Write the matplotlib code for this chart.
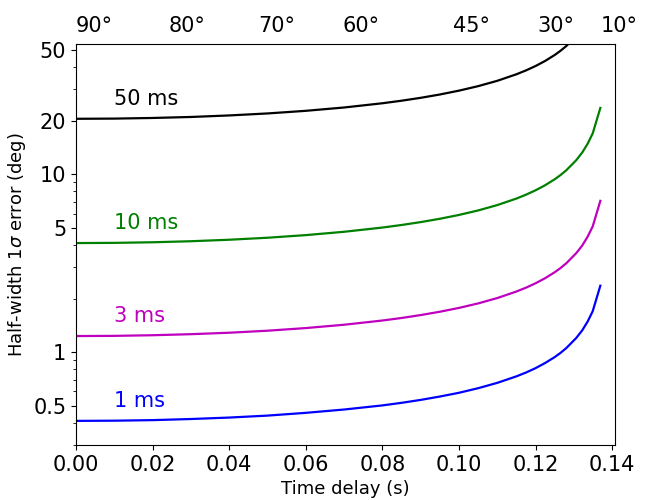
import matplotlib
matplotlib.use("Agg")
import matplotlib.pyplot as plt
from matplotlib.ticker import FixedLocator, FormatStrFormatter, NullFormatter, LogLocator

# time delay (s)
delay = [0.0, 0.01, 0.02, 0.03, 0.04, 0.05, 0.06, 0.07, 0.08, 0.085, 0.09,
         0.095, 0.10, 0.105, 0.11, 0.115, 0.1175, 0.12, 0.1225, 0.125, 0.1265,
         0.128, 0.1306, 0.1322, 0.1336, 0.1349, 0.1369]

# half-width 1 sigma error (deg) for each timing error
err_1ms = [0.41, 0.411, 0.414, 0.420, 0.428, 0.439, 0.455, 0.475, 0.501, 0.518,
           0.538, 0.562, 0.590, 0.626, 0.671, 0.730, 0.767, 0.812, 0.868, 0.937,
           0.989, 1.052, 1.199, 1.327, 1.487, 1.695, 2.361]
err_3ms = [1.23, 1.233, 1.243, 1.260, 1.284, 1.318, 1.364, 1.424, 1.504, 1.554,
           1.614, 1.685, 1.771, 1.877, 2.012, 2.190, 2.302, 2.437, 2.603, 2.812,
           2.967, 3.155, 3.597, 3.980, 4.462, 5.085, 7.084]
err_10ms = [4.1, 4.111, 4.143, 4.199, 4.281, 4.394, 4.545, 4.746, 5.013, 5.182,
            5.380, 5.617, 5.903, 6.257, 6.707, 7.299, 7.675, 8.124, 8.676, 9.374,
            9.892, 10.52, 11.99, 13.27, 14.87, 16.95, 23.61]
err_50ms = [20.5, 20.55, 20.72, 20.99, 21.41, 21.97, 22.73, 23.73, 25.07, 25.91,
            26.90, 28.08, 29.52, 31.29, 33.53, 36.50, 38.37, 40.62, 43.38, 46.87,
            49.46, 52.58, 59.94, 66.34, 74.37, 84.75, 118.1]

series = [err_1ms, err_3ms, err_10ms, err_50ms]
names = ["1 ms", "3 ms", "10 ms", "50 ms"]
colors = ["b", "m", "g", "k"]

# angle labels on top and the delay where each one sits
angles = ["90°", "80°", "70°", "60°", "45°", "30°", "10°"]
angle_delay = [0.0, 0.0241, 0.0475, 0.0695, 0.0983, 0.1204, 0.1369]

yticks = [0.5, 1, 5, 10, 20, 50]

fig = plt.figure(figsize=(6.5, 5), dpi=100)
ax = fig.add_axes([0.117, 0.11, 0.829, 0.802])

for vals, name, c in zip(series, names, colors):
    ax.plot(delay, vals, color=c, lw=1.6)
    ax.text(0.01, vals[0] * 1.2, name, color=c, fontsize=15)

ax.set_yscale("log")
ax.set_xlim(0, 0.1407)
ax.set_ylim(0.3, 54)
ax.yaxis.set_major_locator(FixedLocator(yticks))
ax.yaxis.set_major_formatter(FormatStrFormatter("%g"))
ax.yaxis.set_minor_locator(LogLocator(base=10, subs=range(2, 10)))
ax.yaxis.set_minor_formatter(NullFormatter())
ax.tick_params(labelsize=15)

for lab, t in zip(angles, angle_delay):
    ax.text(t, 1.02, lab, transform=ax.get_xaxis_transform(),
            ha="left", va="bottom", fontsize=15)

ax.set_xlabel("Time delay (s)", fontsize=13)
ax.set_ylabel(r"Half-width $1\sigma$ error (deg)", fontsize=13)

fig.savefig("out.png", dpi=100)
